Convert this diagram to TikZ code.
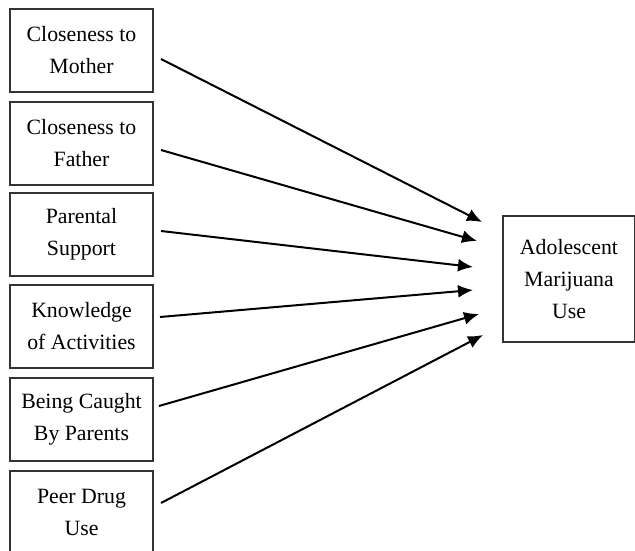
\documentclass[tikz,border=0pt]{standalone}
\usepackage{fontspec}
\setmainfont{Liberation Serif}
\usetikzlibrary{arrows.meta}
\begin{document}
\begin{tikzpicture}[x=1pt,y=-1pt,
  box/.style={draw=black!80,line width=1.5pt,minimum width=143pt,minimum height=83pt,
    align=center,inner sep=0pt,font=\fontsize{21.8}{32}\selectfont},
  outbox/.style={draw=black!80,line width=1.5pt,minimum width=132pt,minimum height=126pt,
    align=center,inner sep=0pt,font=\fontsize{21.8}{32}\selectfont},
  arr/.style={line width=2pt,-{Latex[length=15pt,width=13pt]}}]
\useasboundingbox (0,0) rectangle (635,551);
\begin{scope}
\clip (0,0) rectangle (635,551);
\node[box] (b1) at (81.5,50.5) {Closeness to\\Mother};
\node[box] (b2) at (81.5,143.5) {Closeness to\\Father};
\node[box] (b3) at (81.5,234.5) {Parental\\Support};
\node[box] (b4) at (81.5,326.5) {Knowledge\\of Activities};
\node[box] (b5) at (81.5,419.5) {Being Caught\\By Parents};
\node[box] (b6) at (81.5,512.5) {Peer Drug\\Use};
\node[outbox] (y) at (569,279) {Adolescent\\Marijuana\\Use};
\end{scope}
\coordinate (s1) at (161,59);
\coordinate (s2) at (161,150);
\coordinate (s3) at (161,231);
\coordinate (s4) at (160,317);
\coordinate (s5) at (159,406);
\coordinate (s6) at (161,503);
\coordinate (t1) at (482,222);
\coordinate (t2) at (477,241);
\coordinate (t3) at (473,267);
\coordinate (t4) at (473,290);
\coordinate (t5) at (479,314);
\coordinate (t6) at (483,335);
\foreach \i in {1,...,6} {\draw[arr] (s\i) -- (t\i);}
\end{tikzpicture}
\end{document}
